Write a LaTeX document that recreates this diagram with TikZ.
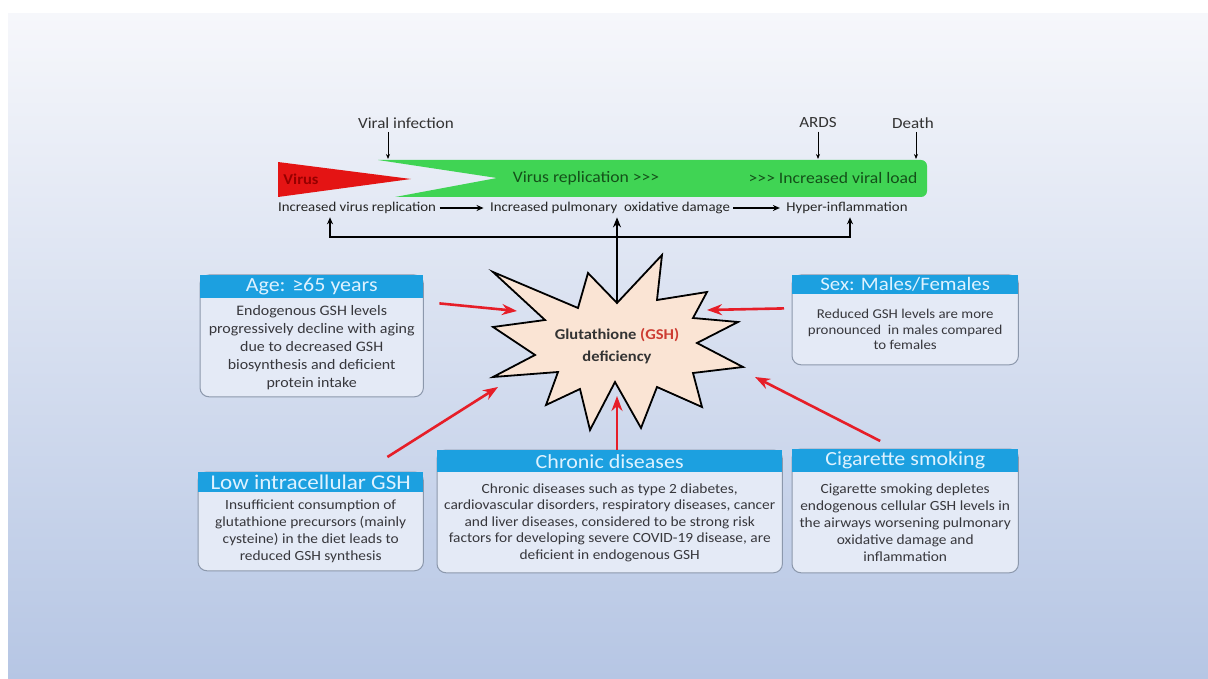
\documentclass[tikz,border=0pt]{standalone}
\usepackage{fontspec}
\setmainfont{Carlito}[FakeStretch=1.1]
\usetikzlibrary{positioning,calc,arrows.meta}
\pgfdeclarelayer{back}
\pgfsetlayers{back,main}

\definecolor{hdrblue}{RGB}{28,160,224}
\definecolor{hdrtext}{RGB}{222,242,255}
\definecolor{boxfill}{RGB}{228,234,246}
\definecolor{boxline}{RGB}{140,152,172}
\definecolor{bargreen}{RGB}{64,212,84}
\definecolor{bartext}{RGB}{20,80,25}
\definecolor{virusred}{RGB}{228,20,20}
\definecolor{virustext}{RGB}{150,0,0}
\definecolor{burstfill}{RGB}{250,228,212}
\definecolor{arrowred}{RGB}{230,30,40}
\definecolor{gshred}{RGB}{205,60,50}
\definecolor{bodytext}{RGB}{55,55,60}
\definecolor{bgtop}{RGB}{246,247,251}
\definecolor{bgbot}{RGB}{182,198,228}

\tikzset{
  hdr/.style={fill=hdrblue, text=hdrtext, inner sep=0pt, anchor=north west,
    font=\fontsize{20}{22}\selectfont},
  body/.style={inner sep=0pt, align=center, text=bodytext,
    font=\fontsize{14}{17}\selectfont},
  frame/.style={fill=boxfill, draw=boxline, line width=1pt, rounded corners=9pt},
  lbl/.style={text=black!80, font=\fontsize{15.5}{17}\selectfont},
  stage/.style={text=black!85, font=\fontsize{13.5}{15}\selectfont},
  bartxt/.style={text=bartext, font=\fontsize{16}{18}\selectfont},
  downarr/.style={-{Stealth[length=5pt,width=4pt]}, line width=0.8pt},
  blkarr/.style={-{Stealth[length=7pt,width=6pt]}, line width=2pt},
  uparr/.style={-{Stealth[length=10pt,width=8pt]}, line width=2.6pt},
  redarr/.style={arrowred, -{Stealth[length=15pt,width=11pt]}, line width=2.6pt}
}

\begin{document}
\begin{tikzpicture}[x=1pt, y=-1pt]
  \useasboundingbox (0,0) rectangle (1208,679);

  % time line
  \fill[bargreen] (378,160) [rounded corners=6pt] -- (927,160) -- (927,197)
    [sharp corners] -- (395,197) -- (497,178) -- cycle;
  \fill[virusred] (278,162) -- (411,179) -- (278,197) -- cycle;
  \node[text=virustext, font=\bfseries\fontsize{15}{17}\selectfont] (virus) at (301,179) {Virus};
  \node[bartxt] (rep) at (586,178) {Virus replication >{}>{}>};
  \node[bartxt] (load) at (833,178) {>{}>{}> Increased viral load};

  \node[lbl] (vi) at (406,123) {Viral infection};
  \node[lbl] (ards) at (818,123) {ARDS};
  \node[lbl] (death) at (913,123) {Death};
  \coordinate (viT) at (388,159);
  \coordinate (ardsT) at (818,159);
  \coordinate (deathT) at (916,159);
  \draw[downarr] (vi.south -| viT) -- (viT);
  \draw[downarr] (ards.south -| ardsT) -- (ardsT);
  \draw[downarr] (death.south -| deathT) -- (deathT);

  \node[stage] (r1) at (357,208) {Increased virus replication};
  \node[stage] (r2) at (610,208) {Increased pulmonary\ \ oxidative damage};
  \node[stage] (r3) at (847,208) {Hyper-inflammation};
  \draw[blkarr, shorten >=3pt] (r1) -- (r2);
  \draw[blkarr, shorten >=3pt] (r2) -- (r3);

  \coordinate (bl) at (330,237);
  \coordinate (br) at (850,237);
  \draw[{Stealth[length=7pt,width=6pt]}-{Stealth[length=7pt,width=6pt]}, line width=2.4pt]
    (bl |- r1.south) -- (bl) -- (br) -- (br |- r3.south);

  % starburst
  \filldraw[fill=burstfill, draw=black, line width=1.8pt, line join=miter]
    (493,272) -- (578,308) -- (588,273) -- (617,303) -- (662,255) -- (657,300)
    -- (707,292) -- (693,318) -- (738,322) -- (697,343) -- (743,367) -- (693,373)
    -- (702,407) -- (657,387) -- (641,428) -- (615,382) -- (590,430) -- (580,389)
    -- (546,405) -- (558,372) -- (493,377) -- (535,355) -- (493,327) -- (545,320)
    -- cycle;
  \coordinate (btop) at (617,303);
  \node[align=center, text=black!80, font=\bfseries\fontsize{15}{22}\selectfont]
    (glut) at (617,346) {Glutathione \textcolor{gshred}{(GSH)}\\deficiency};
  \draw[uparr] (btop) -- (btop |- r2.south);

  % boxes
  \node[hdr, minimum width=223, minimum height=23] (agehd) at (200,275) {Age: ≥65 years};
  \node[body, below=0pt of agehd, minimum width=223, minimum height=98,
    font=\fontsize{14.5}{18}\selectfont] (age)
    {Endogenous GSH levels\\progressively decline with aging\\due to decreased GSH\\biosynthesis and deficient\\protein intake};

  \node[hdr, minimum width=226, minimum height=19, font=\fontsize{19}{21}\selectfont]
    (sexhd) at (792,275) {Sex: Males/Females};
  \node[body, below=0pt of sexhd, minimum width=226, minimum height=70,
    font=\fontsize{13.5}{15.5}\selectfont] (sex)
    {Reduced GSH levels are more\\pronounced\ \ in males compared\\to females};

  \node[hdr, minimum width=225, minimum height=20, font=\fontsize{21}{22}\selectfont]
    (lowhd) at (198,472) {Low intracellular GSH};
  \node[body, below=0pt of lowhd, minimum width=225, minimum height=78] (low)
    {Insufficient consumption of\\glutathione precursors (mainly\\cysteine) in the diet leads to\\reduced GSH synthesis};

  \node[hdr, minimum width=345, minimum height=22] (chronhd) at (437,450) {Chronic diseases};
  \node[body, below=0pt of chronhd, minimum width=345, minimum height=100,
    font=\fontsize{14}{16.5}\selectfont] (chron)
    {Chronic diseases such as type 2 diabetes,\\cardiovascular disorders, respiratory diseases, cancer\\and liver diseases, considered to be strong risk\\factors for developing severe COVID-19 disease, are\\deficient in endogenous GSH};

  \node[hdr, minimum width=226, minimum height=23] (cighd) at (792,449) {Cigarette smoking};
  \node[body, below=0pt of cighd, minimum width=226, minimum height=100] (cig)
    {Cigarette smoking depletes\\endogenous cellular GSH levels in\\the airways worsening pulmonary\\oxidative damage and\\inflammation};

  % red arrows into the burst
  \coordinate (tAge) at (517,311);
  \coordinate (tSex) at (707,310);
  \coordinate (tLow) at (498,387);
  \coordinate (tChr) at (617,396);
  \coordinate (tCig) at (755,377);
  \draw[redarr] ($(agehd.south east)+(16,5)$) -- (tAge);
  \draw[redarr] ($(sexhd.south west)+(-8,14)$) -- (tSex);
  \draw[redarr] ($(lowhd.north east)+(-36,-15)$) -- (tLow);
  \draw[redarr] (chronhd.north -| tChr) -- (tChr);
  \draw[redarr] ($(cighd.north)+(-25,-8)$) -- (tCig);

  \begin{pgfonlayer}{back}
    \fill[white] (0,0) rectangle (1208,679);
    \shade[top color=bgtop, bottom color=bgbot] (8,14) rectangle (1208,679);
    \foreach \bx in {age,sex,low,chron,cig}
      \draw[frame] (\bx hd.north west) rectangle (\bx.south east);
  \end{pgfonlayer}
\end{tikzpicture}
\end{document}
